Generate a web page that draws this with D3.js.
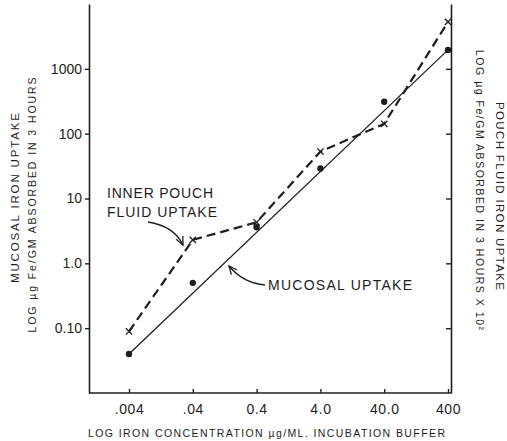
<!DOCTYPE html>
<html><head><meta charset="utf-8">
<script src="https://cdn.jsdelivr.net/npm/d3@7"></script>
<style>
html,body{margin:0;padding:0;background:#fff;}
svg{display:block;font-family:"Liberation Sans",Arial,sans-serif;}
</style></head>
<body><svg id="chart" width="507" height="441"></svg>
<script>
// ---- data ----
const concentrations = [0.004, 0.04, 0.4, 4.0, 40.0, 400];
const xTickLabels = [".004", ".04", "0.4", "4.0", "40.0", "400"];
const mucosalUptake = [0.04, 0.5, 3.6, 29, 310, 1960];
const pouchUptake = [0.089, 2.3, 4.3, 53, 142, 5300];
const mucosalFitConc = [0.004, 400];
const mucosalFitValue = [0.04, 1960];
const yTicks = [0.1, 1, 10, 100, 1000];
const yTickLabels = ["0.10", "1.0", "10", "100", "1000"];

// ---- layout ----
const L = 89, R = 451, T = 4, B = 393;
const ink = "#1e1e1e";
const svg = d3.select("#chart");

const x = d3.scaleLog().domain([0.000944, 445.6]).range([L, R]);
const y = d3.scaleLog().domain([0.01, 10000]).range([B, T]);

// axes
const gl = svg.append("g").attr("transform", `translate(${L},0)`)
  .call(d3.axisLeft(y).tickValues(yTicks).tickFormat((d,i)=>yTickLabels[i]).tickSize(4).tickSizeOuter(0).tickPadding(3));
const gr = svg.append("g").attr("transform", `translate(${R},0)`)
  .call(d3.axisRight(y).tickValues(yTicks).tickFormat("").tickSize(-5).tickSizeOuter(0));
const gb = svg.append("g").attr("transform", `translate(0,${B})`)
  .call(d3.axisBottom(x).tickValues(concentrations).tickFormat((d,i)=>xTickLabels[i]).tickSize(-4).tickSizeOuter(0).tickPadding(11));
gb.select(".domain").attr("d", `M${L},0H${R}`);
[gl, gr, gb].forEach(g => {
  g.select(".domain").attr("stroke", ink).attr("stroke-width", 1.6);
  g.selectAll(".tick line").attr("stroke", ink).attr("stroke-width", 1.4);
  g.selectAll(".tick text").attr("fill", ink).attr("font-size", 14)
    .attr("font-family", "'Liberation Sans',Arial,sans-serif");
});
gb.selectAll(".tick text").attr("letter-spacing", 0.6);

// mucosal fit line (solid)
const fit = mucosalFitConc.map((c,i)=>({c, v: mucosalFitValue[i]}));
svg.append("path").datum(fit)
  .attr("d", d3.line().x(d=>x(d.c)).y(d=>y(d.v)))
  .attr("fill","none").attr("stroke",ink).attr("stroke-width",1.3);

// pouch dashed line
const pouch = concentrations.map((c,i)=>({c, v: pouchUptake[i]}));
svg.append("path").datum(pouch)
  .attr("d", d3.line().x(d=>x(d.c)).y(d=>y(d.v)))
  .attr("fill","none").attr("stroke",ink).attr("stroke-width",2.2)
  .attr("stroke-dasharray","9,5");

// pouch markers (x)
svg.selectAll(".xm").data(pouch).join("path").attr("class","xm")
  .attr("transform", d=>`translate(${x(d.c)},${y(d.v)})`)
  .attr("d", d3.symbol(d3.symbolTimes, 28)())
  .attr("fill","none").attr("stroke",ink).attr("stroke-width",1.3);

// mucosal dots
const muc = concentrations.map((c,i)=>({c, v: mucosalUptake[i]}));
svg.selectAll(".dot").data(muc).join("circle").attr("class","dot")
  .attr("cx", d=>x(d.c)).attr("cy", d=>y(d.v)).attr("r", 3.2).attr("fill", ink);

// annotations
function arrow(p0, pc, p1) {
  svg.append("path").attr("d", `M${p0[0]},${p0[1]}Q${pc[0]},${pc[1]} ${p1[0]},${p1[1]}`)
    .attr("fill","none").attr("stroke",ink).attr("stroke-width",1.3);
  const ang = Math.atan2(p1[1]-pc[1], p1[0]-pc[0]);
  const len = 9, spread = 0.42;
  const a1 = [p1[0]-len*Math.cos(ang-spread), p1[1]-len*Math.sin(ang-spread)];
  const a2 = [p1[0]-len*Math.cos(ang+spread), p1[1]-len*Math.sin(ang+spread)];
  svg.append("path").attr("d", `M${a1[0]},${a1[1]}L${p1[0]},${p1[1]}L${a2[0]},${a2[1]}`)
    .attr("fill","none").attr("stroke",ink).attr("stroke-width",1.3);
}
const ann = svg.append("g").attr("fill", ink).attr("font-size", 14);
ann.append("text").attr("x",107).attr("y",198).attr("textLength",106).attr("lengthAdjust","spacing").text("INNER POUCH");
ann.append("text").attr("x",107).attr("y",217).attr("textLength",110).attr("lengthAdjust","spacing").text("FLUID UPTAKE");
arrow([148,222],[174,226],[183,245]);
ann.append("text").attr("x",268).attr("y",290).attr("textLength",144).attr("lengthAdjust","spacing").text("MUCOSAL UPTAKE");
arrow([265,285],[243,283],[229,266]);

// axis titles
const tt = svg.append("g").attr("fill", ink).attr("text-anchor","middle");
tt.append("text").attr("transform","translate(19,198) rotate(-90)").attr("font-size",11.5)
  .attr("textLength",170).attr("lengthAdjust","spacing").text("MUCOSAL IRON UPTAKE");
tt.append("text").attr("transform","translate(36,205) rotate(-90)").attr("font-size",10.5)
  .attr("textLength",255).attr("lengthAdjust","spacing").text("LOG µg Fe/GM ABSORBED IN 3 HOURS");
tt.append("text").attr("transform","translate(496,196) rotate(90)").attr("font-size",11.5)
  .attr("textLength",188).attr("lengthAdjust","spacing").text("POUCH FLUID IRON UPTAKE");
tt.append("text").attr("transform","translate(476,190) rotate(90)").attr("font-size",10.5)
  .attr("textLength",280).attr("lengthAdjust","spacing").text("LOG µg Fe/GM ABSORBED IN 3 HOURS X 10²");
svg.append("text").attr("x",88).attr("y",437).attr("fill",ink).attr("font-size",10.5)
  .attr("textLength",357).attr("lengthAdjust","spacing")
  .text("LOG IRON CONCENTRATION µg/ML. INCUBATION BUFFER");
</script></body></html>
